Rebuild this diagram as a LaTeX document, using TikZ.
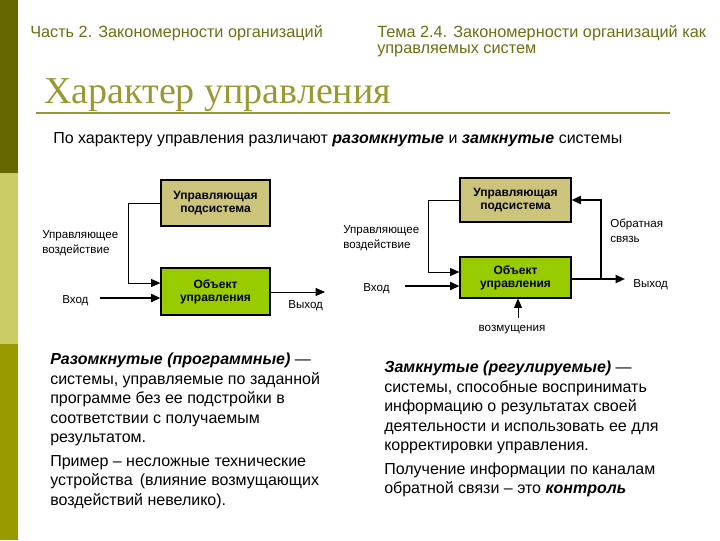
\documentclass[tikz,border=0pt]{standalone}
\usepackage{fontspec}
\setmainfont{Liberation Sans}
\newfontfamily\titlefont{Liberation Serif}
\usepackage{tikz}
\usetikzlibrary{arrows.meta,positioning,calc}
\definecolor{bardark}{RGB}{102,102,0}
\definecolor{barlight}{RGB}{204,204,102}
\definecolor{barolive}{RGB}{153,153,0}
\definecolor{titleol}{RGB}{153,153,51}
\definecolor{headol}{RGB}{110,110,20}
\definecolor{boxkhaki}{RGB}{204,196,122}
\definecolor{boxgreen}{RGB}{153,204,0}
\tikzset{
  upbox/.style={rectangle, draw=black, fill=boxkhaki, line width=0.9pt,
                minimum width=#1, align=center, inner sep=0pt,
                font=\fontsize{9}{9.75}\selectfont\bfseries},
  objbox/.style={rectangle, draw=black, fill=boxgreen, line width=0.9pt,
                 minimum width=#1, align=center, inner sep=0pt,
                 font=\fontsize{9}{9.75}\selectfont\bfseries},
  lbl/.style={font=\fontsize{8.7}{11}\selectfont, align=left, inner sep=0pt},
  headtxt/.style={inner sep=0pt, align=left, text=headol,
                  font=\fontsize{12.2}{12}\selectfont},
  thinarr/.style={-{Triangle[length=7pt,width=6pt]}, line width=0.75pt},
  thickarr/.style={-{Triangle[length=7pt,width=6pt]}, line width=1.5pt},
  bodytxt/.style={font=\fontsize{12}{14.6}\selectfont, align=left,
                  inner sep=0pt, anchor=north west},
}
\begin{document}
\begin{tikzpicture}[x=0.75pt, y=-0.75pt]
  \useasboundingbox (0,0) rectangle (720,540);
  % left bar
  \fill[bardark] (0,0) rectangle (18,173);
  \fill[barlight] (0,173) rectangle (18,344);
  \fill[barolive] (0,344) rectangle (18,540);
  % header
  \node[headtxt, anchor=base west] (part) at (30,37)
    {Часть 2. Закономерности организаций};
  \node[headtxt, anchor=base west] (topic) at (377,37)
    {Тема 2.4. Закономерности организаций как};
  \node[headtxt, anchor=base west] (topic2) at (377,53)
    {управляемых систем};
  % title
  \node[anchor=base west, inner sep=0pt, text=titleol,
        font=\titlefont\fontsize{28.5}{30}\selectfont] (title) at (44,103)
    {Характер управления};
  \draw[titleol, line width=1.6pt] (36,113) -- (670,113);
  \node[anchor=base west, inner sep=0pt, font=\fontsize{12}{13}\selectfont]
    (intro) at (53,143) {По характеру управления различают
    \textbf{\textit{разомкнутые}} и \textbf{\textit{замкнутые}} системы};

  % open system
  \node[upbox=109pt*0.75, minimum height=46*0.75pt] (lup) at (215.5,203)
    {Управляющая\\подсистема};
  \node[objbox=109pt*0.75, minimum height=47*0.75pt] (lobj) at (215.5,291.5)
    {Объект\\управления};
  \coordinate (lbend) at (128,283);
  \coordinate (lin) at (100,298);
  \coordinate (lout) at (325,292);
  \draw[thinarr] (lup.west) -| (lbend) -- (lobj.west |- lbend);
  \draw[thickarr] (lin) -- (lobj.west |- lin);
  \draw[thinarr] (lobj.east |- lout) -- (lout);
  \node[lbl, anchor=west] (lact) at (42,243) {Управляющее\\воздействие};
  \node[lbl, anchor=west] (lentry) at (62,301) {Вход};
  \node[lbl, anchor=west] (lexit) at (288,306) {Выход};

  % closed system
  \node[upbox=111pt*0.75, minimum height=44*0.75pt] (rup) at (515.5,200)
    {Управляющая\\подсистема};
  \node[objbox=111pt*0.75, minimum height=41*0.75pt] (robj) at (515.5,277.5)
    {Объект\\управления};
  \coordinate (rbend) at (428,272);
  \coordinate (rin) at (405,286);
  \coordinate (rout) at (625,279);
  \coordinate (rfb) at (601,279);
  \coordinate (rdist) at (518,318);
  \draw[thinarr] (rup.west) -| (rbend) -- (robj.west |- rbend);
  \draw[thickarr] (rin) -- (robj.west |- rin);
  \draw[thickarr] (robj.east |- rout) -- (rout);
  \draw[thickarr] (rfb) |- (rup.east);
  \draw[thinarr] (rdist) -- (robj.south -| rdist);
  \node[lbl, anchor=west] (ract) at (343,238) {Управляющее\\воздействие};
  \node[lbl, anchor=west] (rfbtxt) at (610,231) {Обратная\\связь};
  \node[lbl, anchor=west] (rentry) at (363,289) {Вход};
  \node[lbl, anchor=west] (rexit) at (633,285) {Выход};
  \node[lbl] (rdisttxt) at (512,330) {возмущения};

  % descriptions
  \node[bodytxt] (opentxt) at (50,353)
    {\textbf{\textit{Разомкнутые (программные)}} —\\
     системы, управляемые по заданной\\
     программе без ее подстройки в\\
     соответствии с получаемым\\
     результатом.\\[3pt]
     Пример – несложные технические\\
     устройства \,(влияние возмущающих\\
     воздействий невелико).};
  \node[bodytxt] (closedtxt) at (384,361)
    {\textbf{\textit{Замкнутые (регулируемые)}} —\\
     системы, способные воспринимать\\
     информацию о результатах своей\\
     деятельности и использовать ее для\\
     корректировки управления.\\[3pt]
     Получение информации по каналам\\
     обратной связи – это \textbf{\textit{контроль}}};
\end{tikzpicture}
\end{document}
